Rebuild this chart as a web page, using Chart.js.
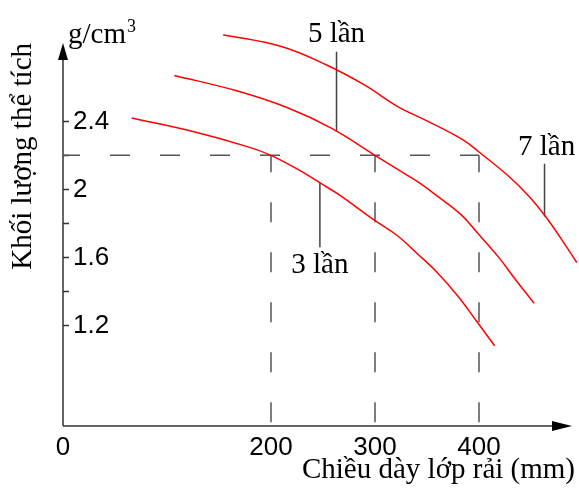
<!DOCTYPE html>
<html lang="vi">
<head>
<meta charset="utf-8">
<title>Khối lượng thể tích theo chiều dày lớp rải</title>
<script src="https://cdn.jsdelivr.net/npm/chart.js@4.4.1/dist/chart.umd.min.js"></script>
<style>
    html, body { margin: 0; padding: 0; background: #fff; }
    #chart { display: block; }
</style>
</head>
<body>
<canvas id="chart" width="579" height="494"></canvas>
<script>
// Values (thickness in mm, density in g/cm3)
const xTicks = [0, 200, 300, 400];
const xTickLabels = ['0', '200', '300', '400'];
const yTicks = [1.2, 1.4, 1.6, 1.8, 2.0, 2.2, 2.4];
const yTickLabels = ['1.2', '', '1.6', '', '2', '', '2.4'];

const thickness3 = [66, 125, 178, 200, 225, 248, 265, 299, 321, 341, 360, 380, 397, 415];
const density3 = [2.42, 2.34, 2.25, 2.20, 2.12, 2.035, 1.97, 1.82, 1.73, 1.62, 1.51, 1.37, 1.23, 1.08];

const thickness5 = [107, 167, 216, 258, 300, 321, 341, 360, 383, 399, 419, 435, 453];
const density5 = [2.67, 2.58, 2.48, 2.36, 2.20, 2.12, 2.045, 1.96, 1.85, 1.74, 1.60, 1.47, 1.33];

const thickness7 = [154, 210, 254, 291, 321, 351, 385, 400, 428, 448, 464, 480, 494];
const density7 = [2.91, 2.84, 2.73, 2.61, 2.49, 2.40, 2.29, 2.22, 2.08, 1.96, 1.84, 1.70, 1.57];

// dashed reading lines at 2.2 g/cm3
const guideDensity = 2.2;
const guideThickness = [200, 300, 400];

// curve labels and their leader lines
const curveNames = ['3 lần', '5 lần', '7 lần'];
const leaderX = [247, 263, 463];
const leaderTop = [2.04, 2.81, 2.15];
const leaderBottom = [1.66, 2.34, 1.84];
const nameX = [247, 263, 465];
const nameY = [1.51, 2.866, 2.20];

const X_MIN = 0, X_MAX = 492.3;
const Y_MIN = 0.608, Y_MAX = 2.861;

const SANS = "'Liberation Sans', Arial, sans-serif";
const SERIF = "'Liberation Serif', 'Times New Roman', serif";

function toPoints(xs, ys) {
    return xs.map((x, i) => ({ x: x, y: ys[i] }));
}

function curve(xs, ys) {
    return {
        data: toPoints(xs, ys),
        borderColor: 'rgb(255, 0, 0)',
        borderWidth: 1.5,
        pointRadius: 0,
        tension: 0.4,
        clip: false
    };
}

function guide(points) {
    return {
        data: points,
        borderColor: '#555',
        borderWidth: 1.5,
        borderDash: [20, 30],
        borderDashOffset: 3,
        pointRadius: 0,
        tension: 0,
        clip: false
    };
}

const datasets = [
    curve(thickness3, density3),
    curve(thickness5, density5),
    curve(thickness7, density7),
    guide([{ x: X_MIN, y: guideDensity }, { x: guideThickness[2], y: guideDensity }])
];

guideThickness.forEach(t => {
    datasets.push(guide([{ x: t, y: guideDensity }, { x: t, y: Y_MIN }]));
});

curveNames.forEach((name, i) => {
    datasets.push({
        data: [{ x: leaderX[i], y: leaderTop[i] }, { x: leaderX[i], y: leaderBottom[i] }],
        borderColor: '#444',
        borderWidth: 1.5,
        pointRadius: 0,
        clip: false
    });
});

// axis lines with arrow heads, inward tick marks on the y axis
const axisArrows = {
    id: 'axisArrows',
    beforeDatasetsDraw(chart) {
        const { ctx, chartArea: area, scales: { x, y } } = chart;
        const x0 = x.getPixelForValue(X_MIN);
        const y0 = y.getPixelForValue(Y_MIN);
        const xTip = area.right - 3;
        const yTip = area.top;

        ctx.save();
        ctx.strokeStyle = '#333';
        ctx.fillStyle = '#000';
        ctx.lineWidth = 1.5;

        ctx.beginPath();
        ctx.moveTo(x0, y0);
        ctx.lineTo(x0, yTip + 14);
        ctx.moveTo(x0, y0);
        ctx.lineTo(xTip - 16, y0);
        ctx.stroke();

        ctx.beginPath();
        ctx.moveTo(x0, yTip);
        ctx.lineTo(x0 - 5, yTip + 17);
        ctx.lineTo(x0 + 5, yTip + 17);
        ctx.closePath();
        ctx.fill();

        ctx.beginPath();
        ctx.moveTo(xTip, y0);
        ctx.lineTo(xTip - 20, y0 - 5);
        ctx.lineTo(xTip - 20, y0 + 5);
        ctx.closePath();
        ctx.fill();

        ctx.beginPath();
        yTicks.forEach(v => {
            const py = Math.round(y.getPixelForValue(v)) + 0.5;
            ctx.moveTo(x0, py);
            ctx.lineTo(x0 + 6, py);
        });
        ctx.stroke();
        ctx.restore();
    },
    afterDatasetsDraw(chart) {
        const { ctx, chartArea: area, scales: { x, y } } = chart;
        ctx.save();
        ctx.fillStyle = '#000';
        ctx.textBaseline = 'alphabetic';

        ctx.font = '29px ' + SERIF;
        ctx.textAlign = 'center';
        curveNames.forEach((name, i) => {
            ctx.fillText(name, x.getPixelForValue(nameX[i]), y.getPixelForValue(nameY[i]));
        });

        // unit label at the top of the y axis
        ctx.textAlign = 'left';
        const ux = area.left + 5;
        ctx.fillText('g/cm', ux, area.top);
        const w = ctx.measureText('g/cm').width;
        ctx.font = '18px ' + SERIF;
        ctx.fillText('3', ux + w + 1, area.top - 11);
        ctx.restore();
    }
};

new Chart(document.getElementById('chart'), {
    type: 'line',
    data: { datasets: datasets },
    options: {
        responsive: false,
        animation: false,
        layout: { padding: { top: 43, right: 4, bottom: 0, left: 0 } },
        plugins: {
            legend: { display: false },
            tooltip: { enabled: false }
        },
        scales: {
            x: {
                type: 'linear',
                min: X_MIN,
                max: X_MAX,
                afterFit: s => { s.height = 68; },
                afterBuildTicks: s => { s.ticks = xTicks.map(v => ({ value: v })); },
                grid: { display: false, drawTicks: false },
                border: { display: false },
                ticks: {
                    autoSkip: false,
                    maxRotation: 0,
                    padding: 6,
                    color: '#000',
                    font: { family: SANS, size: 26, lineHeight: 1.2 },
                    callback: (v, i) => xTickLabels[i]
                },
                title: {
                    display: true,
                    text: 'Chiều dày lớp rải (mm)',
                    align: 'end',
                    color: '#000',
                    font: { family: SERIF, size: 29, lineHeight: 1.2 },
                    padding: { top: 0, bottom: 6 }
                }
            },
            y: {
                type: 'linear',
                min: Y_MIN,
                max: Y_MAX,
                afterFit: s => { s.width = 63; },
                afterBuildTicks: s => { s.ticks = yTicks.map(v => ({ value: v })); },
                grid: { display: false, drawTicks: false },
                border: { display: false },
                ticks: {
                    mirror: true,
                    padding: 10,
                    color: '#000',
                    font: { family: SANS, size: 26, lineHeight: 1.2 },
                    callback: (v, i) => yTickLabels[i]
                },
                title: {
                    display: true,
                    text: 'Khối lượng thể tích',
                    align: 'end',
                    color: '#000',
                    font: { family: SERIF, size: 29, lineHeight: 1.2 },
                    padding: { top: 6, bottom: 0 }
                }
            }
        }
    },
    plugins: [axisArrows]
});
</script>
</body>
</html>
